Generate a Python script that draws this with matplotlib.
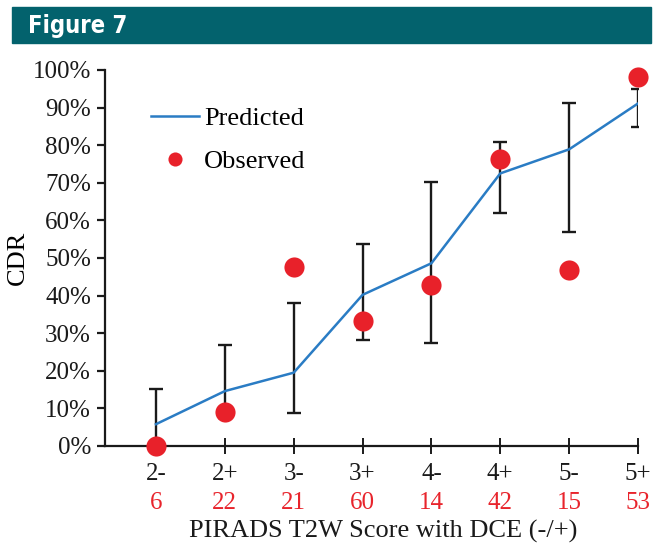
import matplotlib.pyplot as plt
from matplotlib.patches import Rectangle

categories = ["2-", "2+", "3-", "3+", "4-", "4+", "5-", "5+"]
counts = ["6", "22", "21", "60", "14", "42", "15", "53"]
predicted = [5.8, 14.6, 19.5, 40.2, 48.6, 72.5, 78.9, 91.1]
ci_upper = [15.1, 26.8, 38.0, 53.6, 70.3, 80.9, 91.1, 94.9]
ci_lower = [0.5, 7.4, 8.9, 28.2, 27.3, 62.1, 56.9, 84.9]
observed = [0.0, 9.1, 47.6, 33.3, 42.9, 76.2, 46.7, 98.1]

plt.rcParams["font.family"] = ["Liberation Serif", "DejaVu Serif"]

fig = plt.figure(figsize=(6.53, 5.44), dpi=100)
W, H = 653, 544

# header band
fig.patches.append(Rectangle((12 / W, 1 - 43 / H), (651 - 12) / W, 36 / H,
                             transform=fig.transFigure, color="#03626d", zorder=0))
fig.text(28 / W, 1 - 26 / H, "Figure 7", color="white", fontsize=17, fontweight="heavy",
         family=["DejaVu Sans"], stretch="condensed", va="center")

ax = fig.add_axes([105 / W, 1 - 446 / H, (638 - 105) / W, (446 - 70) / H])
x = list(range(len(categories)))

err_lo = [p - l for p, l in zip(predicted, ci_lower)]
err_hi = [u - p for p, u in zip(predicted, ci_upper)]
ax.errorbar(x, predicted, yerr=[err_lo, err_hi], fmt="none", ecolor="#1a1a1a",
            elinewidth=1.7, capsize=5, capthick=1.7, zorder=2)
ax.plot(x, predicted, color="#2a7cc4", lw=1.8, label="Predicted", zorder=3)
ax.plot(x, observed, "o", color="#e8212a", ms=14.5, label="Observed", zorder=4,
        clip_on=False, markeredgewidth=0)

ax.set_xlim(-0.74, 7)
ax.set_ylim(0, 100)
ax.set_yticks(range(0, 101, 10))
ax.set_yticklabels([f"{v}%" for v in range(0, 101, 10)])
ax.set_xticks(x)
ax.set_xticklabels(categories)
for s in ["top", "right"]:
    ax.spines[s].set_visible(False)
for s in ["left", "bottom"]:
    ax.spines[s].set_linewidth(1.6)
    ax.spines[s].set_color("#1a1a1a")
ax.tick_params(axis="y", direction="out", length=6, width=1.6, labelsize=18, pad=4,
               colors="#1a1a1a")
ax.tick_params(axis="x", direction="inout", length=11, width=1.4, labelsize=18, pad=7,
               colors="#1a1a1a")

for xi, c in zip(x, counts):
    ax.annotate(c, (xi, 0), xycoords=("data", "axes fraction"), xytext=(0, -57),
                textcoords="offset pixels", ha="center", va="center",
                color="#e8242c", fontsize=18)

ax.set_ylabel("CDR", fontsize=19, labelpad=3)
fig.text(383 / W, 1 - 531 / H, "PIRADS T2W Score with DCE (-/+)", fontsize=19,
         ha="center", va="center", color="#1a1a1a")

ax.legend(loc="upper left", bbox_to_anchor=(46 / 533, 1 - 37 / 376), frameon=False,
          fontsize=19, handlelength=1.8, handletextpad=0.2, labelspacing=0.72,
          borderaxespad=0, borderpad=0, markerscale=0.7)

fig.savefig("out.png", dpi=100)
